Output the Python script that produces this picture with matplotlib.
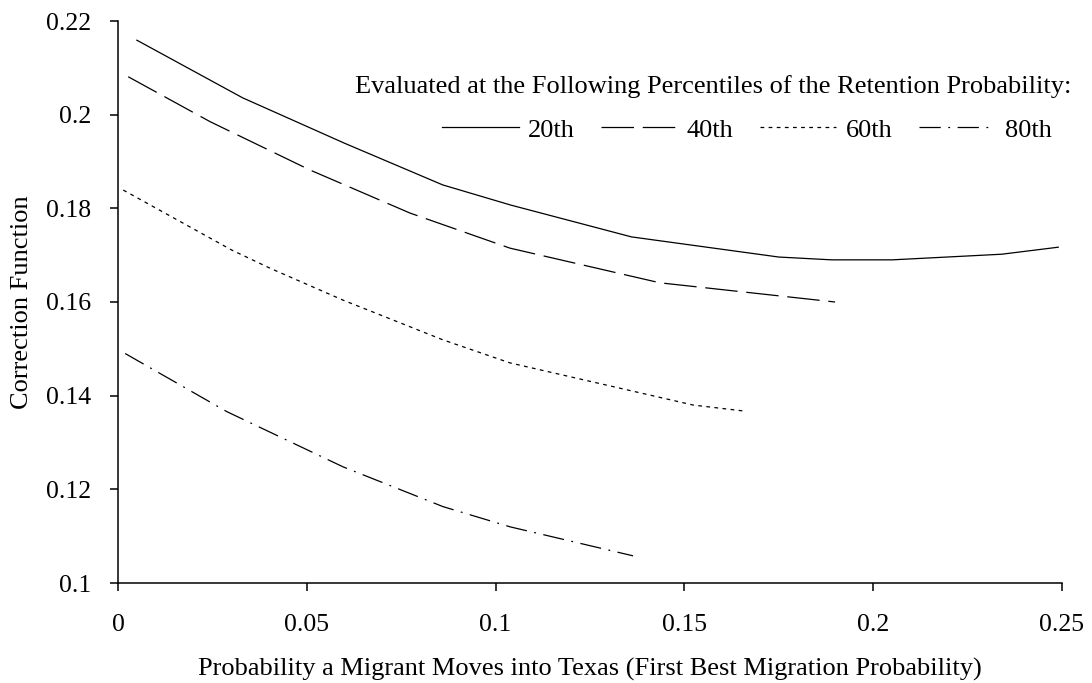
import matplotlib
matplotlib.use("Agg")
import matplotlib.pyplot as plt

plt.rcParams['font.family'] = ['Liberation Serif', 'DejaVu Serif']

# values
x20 = [0.005, 0.033, 0.060, 0.086, 0.104, 0.136, 0.175, 0.189, 0.205, 0.234, 0.249]
y20 = [0.2159, 0.2036, 0.1939, 0.1850, 0.1807, 0.1739, 0.1696, 0.1690, 0.1690, 0.1702, 0.1717]

x40 = [0.0027, 0.0244, 0.0508, 0.0773, 0.1038, 0.1435, 0.1899]
y40 = [0.2081, 0.1985, 0.1882, 0.1790, 0.1715, 0.1641, 0.1600]

x60 = [0.0014, 0.0301, 0.0403, 0.0596, 0.0861, 0.1038, 0.1523, 0.166]
y60 = [0.1839, 0.1711, 0.1672, 0.1604, 0.1519, 0.1470, 0.1380, 0.1367]

x80 = [0.0019, 0.0288, 0.0596, 0.0861, 0.1038, 0.1364]
y80 = [0.1490, 0.1366, 0.1248, 0.1163, 0.1120, 0.1058]

labels = ['20th', '40th', '60th', '80th']
xticks = [0, 0.05, 0.1, 0.15, 0.2, 0.25]
xticklabels = ['0', '0.05', '0.1', '0.15', '0.2', '0.25']
yticks = [0.1, 0.12, 0.14, 0.16, 0.18, 0.2, 0.22]
yticklabels = ['0.1', '0.12', '0.14', '0.16', '0.18', '0.2', '0.22']

fig = plt.figure(figsize=(10.92, 6.83), dpi=100)
ax = fig.add_axes([118 / 1092, 1 - 583 / 683, 944 / 1092, 562 / 683])

styles = ['-', (0, (26, 7)), (0, (3, 3.5)), (0, (17, 6, 1.5, 6))]
series = [(x20, y20), (x40, y40), (x60, y60), (x80, y80)]
handles = []
for (xs, ys), ls, lab in zip(series, styles, labels):
    h, = ax.plot(xs, ys, color='black', lw=0.9, linestyle=ls, label=lab)
    handles.append(h)

ax.set_xlim(0, 0.25)
ax.set_ylim(0.1, 0.22)
ax.set_xticks(xticks)
ax.set_xticklabels(xticklabels)
ax.set_yticks(yticks)
ax.set_yticklabels(yticklabels)
ax.tick_params(axis='both', labelsize=18.5, length=6, width=1.1, pad=13, color='black')
ax.tick_params(axis='x', pad=16)
for side in ['top', 'right']:
    ax.spines[side].set_visible(False)
for side in ['left', 'bottom']:
    ax.spines[side].set_linewidth(1.1)

ax.set_xlabel('Probability a Migrant Moves into Texas (First Best Migration Probability)',
              fontsize=19, labelpad=16)
ax.set_ylabel('Correction Function', fontsize=19, labelpad=10)

fig.text(713 / 1092, 1 - 87 / 683,
         'Evaluated at the Following Percentiles of the Retention Probability:',
         fontsize=19, ha='center', va='center')
fig.legend(handles, labels, ncol=4, loc='center left',
           bbox_to_anchor=(442 / 1092, 1 - 130 / 683), frameon=False,
           fontsize=19, handlelength=2.9, handletextpad=0.35,
           columnspacing=1.0, borderpad=0, borderaxespad=0)

fig.savefig('out.png', dpi=100)
